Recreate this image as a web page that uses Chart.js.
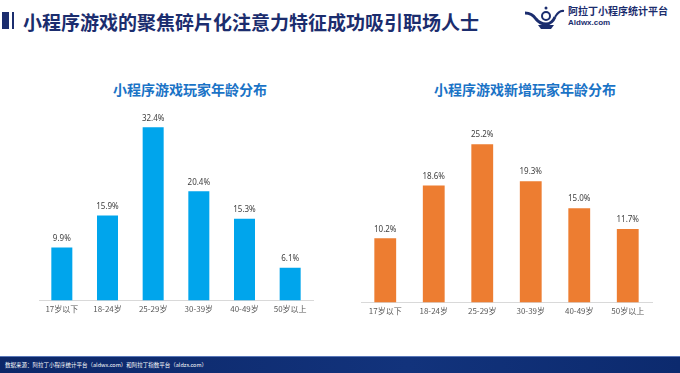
<!DOCTYPE html>
<html lang="zh">
<head>
    <meta charset="UTF-8">
    <title>小程序游戏玩家年龄分布</title>
    <script src="https://cdn.jsdelivr.net/npm/chart.js"></script>
    <style>
        body{
            margin: 0;
            width: 680px;
            height: 373px;
            position: relative;
            overflow: hidden;
            background: #ffffff;
            font-family: "Noto Sans CJK SC", "Noto Sans", sans-serif;
        }
        .bar-thick{ position: absolute; left: 2px; top: 12px; width: 7px; height: 17px; background: #1b2d6e; }
        .bar-thin{ position: absolute; left: 12px; top: 12px; width: 2px; height: 17px; background: #1b2d6e; }
        .main-title{
            position: absolute; left: 23px; top: 9px;
            font-size: 19px; font-weight: bold; color: #1b2d6e;
            line-height: 26px; white-space: nowrap;
        }
        .logo{ position: absolute; left: 524px; top: 5px; }
        .logo-name{ position: absolute; left: 568px; top: 5px; font-size: 10px; font-weight: bold; color: #1b2d6e; line-height: 12px; white-space: nowrap; }
        .logo-url{ position: absolute; left: 568px; top: 18px; font-size: 8px; font-weight: bold; color: #1b2d6e; line-height: 9px; font-family: "Liberation Sans", Arial, sans-serif; }
        .sub-title{
            position: absolute; top: 79px; width: 260px;
            font-size: 14px; font-weight: bold; color: #1a73c6;
            text-align: center; line-height: 20px; white-space: nowrap;
        }
        .chart-box{ position: absolute; }
        .footer{
            position: absolute; left: 0; top: 356px; width: 680px; height: 17px;
            background: linear-gradient(90deg, #0c2768 0%, #12337c 60%, #0c2a6e 100%);
            border-top: 1px solid #5a78b8;
        }
        .footer span{
            position: absolute; left: 5px; top: 4px;
            font-size: 5.5px; color: #ffffff; line-height: 8px; white-space: nowrap;
        }
    </style>
</head>
<body>
    <div class="bar-thick"></div>
    <div class="bar-thin"></div>
    <div class="main-title">小程序游戏的聚焦碎片化注意力特征成功吸引职场人士</div>

    <svg class="logo" width="42" height="26" viewBox="0 0 42 26">
        <path d="M1 8 Q8 8 12 14 Q16 19 22 19 Q28 19 31 12" stroke="#1b2d6e" stroke-width="3" fill="none"/>
        <path d="M14 20 L30 20 L27 24 L17 24 Z" fill="#1b2d6e"/>
        <circle cx="22" cy="11" r="4" stroke="#1b2d6e" stroke-width="2" fill="none"/>
        <path d="M31 12 Q35 5 40 6" stroke="#1b2d6e" stroke-width="2" fill="none"/>
        <circle cx="22" cy="3" r="1.5" fill="#1b2d6e"/>
    </svg>
    <div class="logo-name">阿拉丁小程序统计平台</div>
    <div class="logo-url">Aldwx.com</div>

    <div class="sub-title" style="left: 60px;">小程序游戏玩家年龄分布</div>
    <div class="sub-title" style="left: 395px;">小程序游戏新增玩家年龄分布</div>

    <div class="chart-box" style="left: 30px; top: 100px; width: 295px; height: 225px;">
        <canvas id="chart-left"></canvas>
    </div>
    <div class="chart-box" style="left: 350px; top: 100px; width: 315px; height: 226px;">
        <canvas id="chart-right"></canvas>
    </div>

    <div class="footer"><span>数据来源：阿拉丁小程序统计平台（aldwx.com）和阿拉丁指数平台（aldzs.com）</span></div>

    <script>
        const ageGroups = ['17岁以下', '18-24岁', '25-29岁', '30-39岁', '40-49岁', '50岁以上'];
        const playerShare = [9.9, 15.9, 32.4, 20.4, 15.3, 6.1];
        const newPlayerShare = [10.2, 18.6, 25.2, 19.3, 15.0, 11.7];

        // values above the bars
        const valueLabels = {
            id: 'valueLabels',
            afterDatasetsDraw(chart) {
                const ctx = chart.ctx;
                ctx.save();
                ctx.font = '8px "Noto Sans", sans-serif';
                ctx.fillStyle = '#404040';
                ctx.textAlign = 'center';
                ctx.textBaseline = 'bottom';
                chart.getDatasetMeta(0).data.forEach((bar, i) => {
                    const v = chart.data.datasets[0].data[i];
                    ctx.fillText(v.toFixed(1) + '%', bar.x, bar.y - 5);
                });
                ctx.restore();
            }
        };

        function makeChart(id, values, color, yMax, padding, barPct) {
            return new Chart(document.getElementById(id), {
                type: 'bar',
                data: {
                    labels: ageGroups,
                    datasets: [{
                        data: values,
                        backgroundColor: color,
                        categoryPercentage: 1,
                        barPercentage: barPct
                    }]
                },
                options: {
                    responsive: true,
                    maintainAspectRatio: false,
                    animation: false,
                    layout: { padding: padding },
                    plugins: {
                        legend: { display: false },
                        tooltip: { enabled: false }
                    },
                    scales: {
                        x: {
                            grid: { display: false, drawTicks: false },
                            border: { display: true, color: '#d9d9d9', width: 1 },
                            ticks: {
                                color: '#595959',
                                padding: 4,
                                font: { size: 8, family: '"Noto Sans CJK SC", sans-serif' }
                            }
                        },
                        y: {
                            display: false,
                            min: 0,
                            max: yMax
                        }
                    }
                },
                plugins: [valueLabels]
            });
        }

        makeChart('chart-left', playerShare, '#00a5ec', 36, { left: 9, right: 12, top: 8, bottom: 7 }, 0.46);
        makeChart('chart-right', newPlayerShare, '#ed7d31', 30, { left: 11, right: 13, top: 14, bottom: 6 }, 0.45);
    </script>
</body>
</html>
